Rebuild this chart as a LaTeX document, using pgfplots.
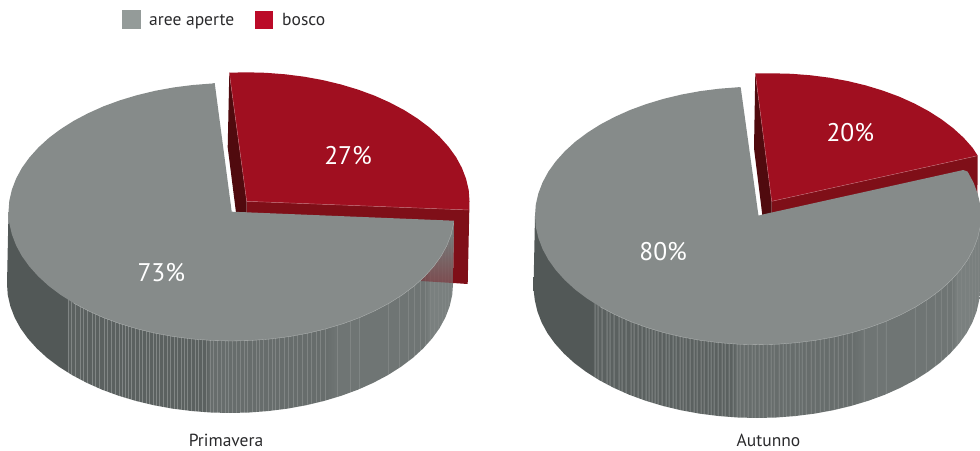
\documentclass[border=0pt]{standalone}
\usepackage{pgfplots}
\pgfplotsset{compat=1.18}
\usepackage{fontspec}
\setmainfont{PT Sans}

\definecolor{gtop}{HTML}{868B8A}
\definecolor{rtop}{HTML}{A00F20}
\definecolor{rside}{HTML}{7F0F18}
\definecolor{rin}{HTML}{500A0E}
\definecolor{gd}{HTML}{525857}
\definecolor{gA}{HTML}{5B6160}
\definecolor{gB}{HTML}{676D6C}
\definecolor{gC}{HTML}{6F7574}
\definecolor{gE}{HTML}{7A807F}
\definecolor{gL}{HTML}{828786}
\definecolor{legG}{HTML}{949B99}
\definecolor{legR}{HTML}{BB0A28}
\definecolor{edgeR}{HTML}{BE6A74}
\definecolor{rimedge}{HTML}{B0B4B3}
\definecolor{txt}{HTML}{2A2A2C}

% Rim shading: dark left part, then thin vertical highlights on a lighter base.
\xdef\rimstops{color(0bp)=(gd); color(31.7bp)=(gd);}
\newcommand\addstripes[2]{%
  \foreach \p in {#2}{%
    \pgfmathsetmacro\pa{25+(\p-0.3)*0.11186}%
    \pgfmathsetmacro\pb{25+\p*0.11186}%
    \pgfmathsetmacro\pc{25+(\p+0.3)*0.11186}%
    \xdef\rimstops{\rimstops color(\pa bp)=(#1); color(\pb bp)=(gL); color(\pc bp)=(#1);}%
  }}
\addstripes{gA}{61,64,68,73,76,80,85,88,92,97,100,104,108,112,115,118,121,124,128,132,135,139,142,146,149,152,156,160,163,167,170,174,177,180,184,188,191,195,199}
\addstripes{gB}{203,206,210,214,218,221,225,229,233,237,240,245,249,252,256,261,265,268,272,277,281,286,290,295,300,304,309,313,318}
\addstripes{gC}{330,343,352,381,392,401,407,413,418}
\addstripes{gE}{423,427,431,435,438,441,444}
\xdef\rimstops{\rimstops color(75.0bp)=(gE); color(100bp)=(gE)}
\edef\tmp{\noexpand\pgfdeclarehorizontalshading{rimshade}{100bp}{\rimstops}}\tmp

\begin{document}
\begin{tikzpicture}
\useasboundingbox (0,0) rectangle (980pt,450pt);
\begin{axis}[
  at={(0,0)}, anchor=south west,
  width=980pt, height=450pt, scale only axis,
  hide axis, xmin=0, xmax=980, ymin=0, ymax=450, y dir=reverse,
  clip=true,
  every axis plot/.append style={forget plot},
]
% ---- Legend swatches
\addplot[fill=legG, draw=none] coordinates {(122,10)(141,10)(141,29)(122,29)} --cycle;
\addplot[fill=legR, draw=none] coordinates {(255,11)(273,11)(273,29)(255,29)} --cycle;

% ---- Primavera: rim of the grey slice
\addplot[shade, shading=rimshade, draw=none] coordinates {
 (8.5,212)(7,284)(7.8,295.2)(10.4,306.4)(14.6,317.4)(20.4,328.1)(27.9,338.5)(36.9,348.5)
 (47.3,358)(59.2,366.9)(72.3,375.2)(86.7,382.8)(102.1,389.7)(118.5,395.7)(135.8,400.9)
 (153.7,405.2)(172.3,408.6)(191.3,411)(210.6,412.5)(230,413)(249.4,412.5)(268.7,411)
 (287.7,408.6)(306.3,405.2)(324.2,400.9)(341.5,395.7)(357.9,389.7)(373.3,382.8)(387.7,375.2)
 (400.8,366.9)(412.7,358)(423.1,348.5)(432.1,338.5)(439.6,328.1)(445.4,317.4)(449.6,306.4)
 (452.2,295.2)(453,284)(454,221)} --cycle;
% Primavera: cut faces of the red slice
\addplot[fill=rside, draw=none] coordinates {(246.7,201.3)(469.3,210)(467.7,284)(453,283)(454,222)(246.7,214)} --cycle;
\addplot[top color=gC, bottom color=rside, fill opacity=0.45, draw=none] coordinates {(454,235)(453,283)(421,281)(430,235)} --cycle;
\addplot[fill=rin, draw=none] coordinates {(229.3,72.7)(227.7,147.3)(236,212.5)(246.7,212.5)(246.7,201.3)} --cycle;
% Primavera: top of the red slice
\addplot[fill=rtop, draw=none] coordinates {
 (246.7,201.3)(229.3,72.7)(246.5,72.3)(265.9,72.8)(285.2,74.3)(304.2,76.7)(322.8,80.1)(340.7,84.4)
 (358,89.6)(374.4,95.6)(389.8,102.5)(404.2,110.1)(417.3,118.4)(429.2,127.3)(439.6,136.8)
 (448.6,146.8)(456.1,157.2)(461.9,167.9)(466.1,178.9)(468.7,190.1)(469.5,201.3)(469.3,210)} --cycle;
\addplot[draw=edgeR, line width=0.4pt] coordinates {(229.3,72.7)(246.7,201.3)(469.3,210)};
% Primavera: top of the grey slice
\addplot[fill=gtop, draw=none] coordinates {
 (231.7,211.7)(454,220.7)(453.7,223.2)(451.1,234.4)(446.9,245.4)(441.1,256.1)(433.6,266.5)(424.6,276.5)
 (414.2,286)(402.3,294.9)(389.2,303.2)(374.8,310.8)(359.4,317.7)(343,323.7)(325.7,328.9)
 (307.8,333.2)(289.2,336.6)(270.2,339)(250.9,340.5)(231.5,341)(212.1,340.5)(192.8,339)
 (173.8,336.6)(155.2,333.2)(137.3,328.9)(120,323.7)(103.6,317.7)(88.2,310.8)(73.8,303.2)
 (60.7,294.9)(48.8,286)(38.4,276.5)(29.4,266.5)(21.9,256.1)(16.1,245.4)(11.9,234.4)(9.3,223.2)
 (8.5,212)(9.3,200.8)(11.9,189.6)(16.1,178.6)(21.9,167.9)(29.4,157.5)(38.4,147.5)(48.8,138)
 (60.7,129.1)(73.8,120.8)(88.2,113.2)(103.6,106.3)(120,100.3)(137.3,95.1)(155.2,90.8)
 (173.8,87.4)(192.8,85)(212.1,83.5)(214.7,83)} --cycle;
% Primavera: pale seam where top meets rim
\addplot[draw=rimedge, line width=0.35pt] coordinates {
 (453.7,223.2)(451.1,234.4)(446.9,245.4)(441.1,256.1)(433.6,266.5)(424.6,276.5)
 (414.2,286)(402.3,294.9)(389.2,303.2)(374.8,310.8)(359.4,317.7)(343,323.7)(325.7,328.9)
 (307.8,333.2)(289.2,336.6)(270.2,339)(250.9,340.5)(231.5,341)(212.1,340.5)(192.8,339)
 (173.8,336.6)(155.2,333.2)(137.3,328.9)(120,323.7)(103.6,317.7)(88.2,310.8)(73.8,303.2)};

% ---- Autunno: rim of the grey slice
\addplot[shade, shading=rimshade, draw=none] coordinates {
 (535,215.7)(533.5,289)(534.8,300.2)(537.4,311.4)(541.6,322.4)(547.4,333.1)(554.9,343.5)(563.9,353.5)
 (574.3,363)(586.2,371.9)(599.3,380.2)(613.7,387.8)(629.1,394.7)(645.5,400.7)(662.8,405.9)
 (680.7,410.2)(699.3,413.6)(718.3,416)(737.6,417.5)(757,418)(776.4,417.5)(795.7,416)
 (814.7,413.6)(833.3,410.2)(851.2,405.9)(868.5,400.7)(884.9,394.7)(900.3,387.8)(914.7,380.2)
 (927.8,371.9)(939.7,363)(950.1,353.5)(959.1,343.5)(966.6,333.1)(972.4,322.4)(976.6,311.4)
 (979.2,300.2)(980,289)(981,215.7)} --cycle;
% Autunno: cut faces of the red slice
\addplot[fill=rside, draw=none] coordinates {(771.7,201.3)(977.7,155.7)(977.4,197)(771.7,214)} --cycle;
\addplot[fill=rin, draw=none] coordinates {(755.3,73.3)(754,148.3)(762.3,215)(771.7,213.5)(771.7,201.3)} --cycle;
% Autunno: top of the red slice
\addplot[fill=rtop, draw=none] coordinates {
 (771.7,201.3)(755.3,73.3)(772.3,73.3)(791.6,73.8)(810.7,75.3)(829.5,77.7)(847.9,81.1)(865.7,85.4)
 (882.8,90.6)(899.1,96.6)(914.4,103.5)(928.6,111.1)(941.6,119.4)(953.3,128.3)(963.7,137.8)
 (972.6,147.8)(977.7,155.7)} --cycle;
\addplot[draw=edgeR, line width=0.4pt] coordinates {(755.3,73.3)(771.7,201.3)(977.7,155.7)};
% Autunno: top of the grey slice
\addplot[fill=gtop, draw=none] coordinates {
 (758.5,215.8)(762.7,214.5)(963.3,170)(967.6,171.6)(973.4,182.3)(977.6,193.3)(980.2,204.5)(981,215.7)
 (980.2,226.9)(977.6,238.1)(973.4,249.1)(967.6,259.8)(960.1,270.2)(951.1,280.2)(940.7,289.7)
 (928.8,298.6)(915.7,306.9)(901.3,314.5)(885.9,321.4)(869.5,327.4)(852.2,332.6)(834.3,336.9)
 (815.7,340.3)(796.7,342.7)(777.4,344.2)(758,344.7)(738.6,344.2)(719.3,342.7)(700.3,340.3)
 (681.7,336.9)(663.8,332.6)(646.5,327.4)(630.1,321.4)(614.7,314.5)(600.3,306.9)(587.2,298.6)
 (575.3,289.7)(564.9,280.2)(555.9,270.2)(548.4,259.8)(542.6,249.1)(538.4,238.1)(535.8,226.9)
 (535,215.7)(535.8,204.5)(538.4,193.3)(542.6,182.3)(548.4,171.6)(555.9,161.2)(564.9,151.2)
 (575.3,141.7)(587.2,132.8)(600.3,124.5)(614.7,116.9)(630.1,110)(646.5,104)(663.8,98.8)
 (681.7,94.5)(700.3,91.1)(719.3,88.7)(738.6,87.2)(740.7,87.3)} --cycle;
% Autunno: pale seam where top meets rim
\addplot[draw=rimedge, line width=0.35pt] coordinates {
 (980.2,226.9)(977.6,238.1)(973.4,249.1)(967.6,259.8)(960.1,270.2)(951.1,280.2)(940.7,289.7)
 (928.8,298.6)(915.7,306.9)(901.3,314.5)(885.9,321.4)(869.5,327.4)(852.2,332.6)(834.3,336.9)
 (815.7,340.3)(796.7,342.7)(777.4,344.2)(758,344.7)(738.6,344.2)(719.3,342.7)(700.3,340.3)
 (681.7,336.9)(663.8,332.6)(646.5,327.4)(630.1,321.4)(614.7,314.5)(600.3,306.9)};

% ---- Text
\node[text=txt, anchor=base west, inner sep=0pt, font=\fontsize{17.5}{20}\selectfont] at (axis cs:149,25) {aree aperte};
\node[text=txt, anchor=base west, inner sep=0pt, font=\fontsize{17.5}{20}\selectfont] at (axis cs:282,25) {bosco};
\node[text=txt, anchor=base, inner sep=0pt, font=\fontsize{17.5}{20}\selectfont] at (axis cs:226,446.5) {Primavera};
\node[text=txt, anchor=base, inner sep=0pt, font=\fontsize{17.5}{20}\selectfont] at (axis cs:768.5,446.5) {Autunno};
\node[text=white, font=\fontsize{25.5}{28}\selectfont] at (axis cs:161.3,272.5) {73\%};
\node[text=white, font=\fontsize{25.5}{28}\selectfont] at (axis cs:348,155.2) {27\%};
\node[text=white, font=\fontsize{25.5}{28}\selectfont] at (axis cs:663.1,251.3) {80\%};
\node[text=white, font=\fontsize{25.5}{28}\selectfont] at (axis cs:850.3,133) {20\%};
\end{axis}
\end{tikzpicture}
\end{document}
